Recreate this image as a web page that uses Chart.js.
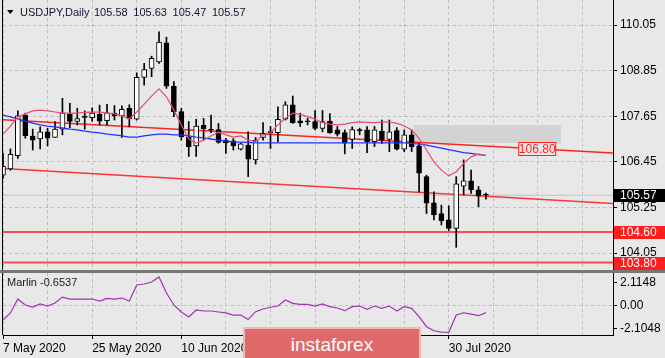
<!DOCTYPE html>
<html><head><meta charset="utf-8">
<script src="https://cdn.jsdelivr.net/npm/chart.js@4.4.1/dist/chart.umd.min.js"></script>
<style>
html,body{margin:0;padding:0;background:#e8e8e8;}
#wrap{position:relative;width:665px;height:358px;overflow:hidden;background:#e8e8e8;}
#c1{position:absolute;left:0;top:0;}
#c2{position:absolute;left:0;top:270px;}
#sep{position:absolute;left:0;top:270px;width:665px;height:3px;background:#777;}
#wm{position:absolute;left:243px;top:327px;width:174px;height:40px;background:#e06a6a;border:2px solid #f2b5b5;color:#fff;font:19px "Liberation Sans",Arial,sans-serif;text-align:center;line-height:31px;}
</style></head>
<body><div id="wrap"><canvas id="c1" width="665" height="270"></canvas><canvas id="c2" width="665" height="88"></canvas><div id="sep"></div><div id="wm">instaforex</div></div>
<script>
const symbolTitle = "USDJPY,Daily";
const dates = ["7 May 2020","8 May 2020","11 May 2020","12 May 2020","13 May 2020","14 May 2020","15 May 2020","18 May 2020","19 May 2020","20 May 2020","21 May 2020","22 May 2020","25 May 2020","26 May 2020","27 May 2020","28 May 2020","29 May 2020",
"1 Jun 2020","2 Jun 2020","3 Jun 2020","4 Jun 2020","5 Jun 2020","8 Jun 2020","9 Jun 2020","10 Jun 2020","11 Jun 2020","12 Jun 2020","15 Jun 2020","16 Jun 2020","17 Jun 2020","18 Jun 2020","19 Jun 2020","22 Jun 2020","23 Jun 2020","24 Jun 2020","25 Jun 2020","26 Jun 2020","29 Jun 2020","30 Jun 2020",
"1 Jul 2020","2 Jul 2020","3 Jul 2020","6 Jul 2020","7 Jul 2020","8 Jul 2020","9 Jul 2020","10 Jul 2020","13 Jul 2020","14 Jul 2020","15 Jul 2020","16 Jul 2020","17 Jul 2020","20 Jul 2020","21 Jul 2020","22 Jul 2020","23 Jul 2020","24 Jul 2020","27 Jul 2020","28 Jul 2020","29 Jul 2020","30 Jul 2020","31 Jul 2020",
"3 Aug 2020","4 Aug 2020","5 Aug 2020","6 Aug 2020"];
const open  = [106.10,106.26,106.61,107.68,107.13,107.05,107.24,107.09,107.31,107.70,107.51,107.62,107.61,107.70,107.53,107.73,107.66,
107.86,107.57,108.67,108.91,109.08,109.58,108.44,107.77,107.11,106.87,107.41,107.29,107.30,107.02,107.00,106.78,106.89,106.50,107.09,107.22,107.22,107.57,
107.95,107.53,107.53,107.51,107.33,107.52,107.29,107.22,107.04,107.30,107.29,106.98,107.26,107.04,107.27,106.78,107.16,106.87,106.06,105.37,105.09,104.92,104.70,
105.81,105.95,105.71,105.58];
const high  = [106.67,106.79,107.79,107.73,107.31,107.37,107.33,107.51,108.12,107.99,107.86,107.79,107.87,107.94,107.96,107.93,107.92,
107.95,108.79,109.04,109.23,109.87,109.73,108.56,107.86,107.51,107.57,107.59,107.68,107.46,107.07,107.06,106.94,107.24,107.09,107.48,107.38,107.90,108.03,
108.18,107.73,107.60,107.80,107.80,107.72,107.38,107.29,107.37,107.33,107.38,107.38,107.55,107.55,107.35,107.29,107.29,106.94,106.10,105.66,105.31,105.29,106.06,
106.50,106.23,105.80,105.63];
const low   = [106.01,106.23,106.54,107.07,106.76,106.79,106.87,107.09,107.16,107.35,107.42,107.31,107.52,107.42,107.42,107.55,107.09,
107.37,107.55,108.47,108.69,109.04,108.38,107.64,107.02,106.59,106.59,107.02,107.22,106.94,106.67,106.76,106.76,106.06,106.39,107.02,106.80,106.98,107.55,
107.46,107.38,107.42,107.29,107.24,107.20,107.13,106.66,106.80,107.16,106.69,106.85,106.93,106.72,106.76,106.72,106.72,105.66,105.09,104.92,104.79,104.64,104.20,
105.58,105.62,105.27,105.47];
const close = [106.33,106.65,107.66,107.14,107.02,107.24,107.07,107.31,107.73,107.51,107.59,107.64,107.73,107.52,107.74,107.66,107.83,
107.58,108.67,108.88,109.17,109.60,108.44,107.77,107.11,106.85,107.39,107.32,107.28,106.96,106.95,106.87,106.92,106.52,107.02,107.20,107.24,107.57,107.95,
107.48,107.48,107.50,107.33,107.51,107.22,107.18,106.94,107.30,107.26,106.98,107.29,107.02,107.24,106.78,107.16,106.85,106.15,105.36,105.05,104.90,104.70,105.87,
105.95,105.71,105.55,105.57];
const maFast = [107.18,107.39,107.63,107.71,107.79,107.81,107.79,107.76,107.73,107.73,107.73,107.75,107.76,107.76,107.73,107.71,107.66,
107.58,107.76,107.97,108.18,108.37,108.16,107.81,107.42,107.05,106.94,107.02,107.13,107.23,107.16,107.10,107.13,107.02,106.98,107.16,107.21,107.42,107.60,
107.73,107.70,107.64,107.57,107.48,107.44,107.42,107.44,107.48,107.50,107.49,107.48,107.50,107.50,107.46,107.40,107.29,107.07,106.76,106.45,106.23,106.08,106.19,
106.41,106.58,106.66,106.61];
const maSlow = [107.68,107.63,107.58,107.52,107.47,107.42,107.39,107.37,107.34,107.31,107.29,107.26,107.23,107.21,107.18,107.16,107.13,
107.10,107.10,107.13,107.16,107.18,107.18,107.16,107.16,107.13,107.10,107.08,107.05,107.02,107.00,106.97,106.97,106.96,106.95,106.95,106.95,106.95,106.95,
106.95,106.95,106.95,106.95,106.95,106.95,106.95,106.95,106.95,106.95,106.95,106.95,106.95,106.95,106.95,106.95,106.93,106.92,106.89,106.85,106.81,106.77,106.73,
106.69,106.67,106.64,106.62];
const marlin = [-1.32,-0.68,0.59,0.05,-0.14,0.14,-0.05,0.23,0.77,0.59,0.59,0.59,0.59,0.41,0.64,0.59,0.68,
0.41,1.87,1.96,2.14,2.60,1.14,0.05,-0.59,-1.05,-0.41,-0.50,-0.50,-0.59,-0.68,-0.87,-0.87,-1.28,-0.56,-0.32,-0.16,-0.05,0.50,
0.20,0.11,0.11,-0.05,0.14,-0.11,-0.23,-0.47,-0.11,-0.05,-0.35,-0.05,-0.26,-0.05,-0.50,-0.11,-0.26,-1.02,-1.93,-2.30,-2.42,-2.44,-0.87,
-0.66,-0.78,-0.93,-0.6537];
const priceTicks = [110.05,108.85,107.65,106.45,105.25,104.05];
const marlinTicks = [2.1148,0,-2.1048];
const dateTickIdx = [0,12,24,60];
const gridStepBars = 6;
const trendUpper = [[-0.5,107.564],[83,106.672]];
const trendLower = [[-0.5,106.280],[83,105.345]];
const levels = [104.60,103.80];
const zone = {from:55.2,to:75.1,top:107.42,bottom:106.945};
const targetLabel = {x:71.9,price:106.80};
const priceRange = [103.603,110.708];
const marlinRange = [-2.689,2.963];
const barRange = [0,82.1];

const FONT = '"Liberation Sans", Arial, sans-serif';
const idx = dates.map((d,i)=>i);
const gridTicks = []; for (let v=0; v<=barRange[1]; v+=gridStepBars) gridTicks.push(v);
const lineDs = (pts, color, w, order, extra) => Object.assign({type:'line', data: pts.map(p=>({x:p[0],y:p[1]})), borderColor:color, borderWidth:w, pointRadius:0, tension:0, fill:false, order}, extra||{});

const mainOverlay = {
  id:'mainOverlay',
  afterDraw(chart){
    const {ctx, chartArea:a, scales:{x,y}} = chart;
    ctx.save();
    ctx.strokeStyle='#000'; ctx.lineWidth=1;
    ctx.beginPath(); ctx.moveTo(a.left-0.5,a.top); ctx.lineTo(a.left-0.5,a.bottom); ctx.stroke();
    // title
    ctx.fillStyle='#000';
    ctx.beginPath(); ctx.moveTo(7,10); ctx.lineTo(13.5,10); ctx.lineTo(10.25,14); ctx.closePath(); ctx.fill();
    ctx.font='11px '+FONT; ctx.textBaseline='middle'; ctx.textAlign='left'; ctx.fillStyle='#141432';
    ctx.fillText(symbolTitle,20,13);
    const last = open.length-1;
    [open[last],high[last],low[last],close[last]].forEach((v,k)=>ctx.fillText(v.toFixed(2),94+k*39.3,13));
    // target label
    const tx = x.getPixelForValue(targetLabel.x), ty = Math.round(y.getPixelForValue(targetLabel.price));
    ctx.font='12px '+FONT; ctx.textAlign='center';
    ctx.fillStyle='#e8e8e8'; ctx.fillRect(tx-18.5,ty-6.5,37,13);
    ctx.strokeStyle='#ff2020'; ctx.strokeRect(tx-18.5,ty-6.5,37,13);
    ctx.fillStyle='#ff2020'; ctx.fillText(targetLabel.price.toFixed(2),tx,ty+0.5);
    // axis boxes
    const box=(val,bg,fg)=>{const py=Math.round(y.getPixelForValue(val)); ctx.fillStyle=bg; ctx.fillRect(a.right+1,py-6,52,13); ctx.fillStyle=fg; ctx.textAlign='left'; ctx.fillText(val.toFixed(2),a.right+7,py+0.5);};
    box(close[last],'#000','#fff');
    levels.forEach(v=>box(v,'#ff1e1e','#fff'));
    ctx.restore();
  }
};

const wickData = idx.map(i=>({x:i,y:[low[i],high[i]]}));
const bodyData = idx.map(i=>({x:i,y:[open[i],close[i]]}));
const bodyColors = idx.map(i=>(close[i]-open[i]>0.03?'#ffffff':'#000000'));

new Chart(document.getElementById('c1'),{
  type:'line',
  data:{datasets:[
    lineDs([[zone.from,zone.top],[zone.to,zone.top]],'rgba(0,0,0,0)',0,30,{fill:{value:zone.bottom},backgroundColor:'#d3d3d3'}),
    lineDs([[-1,close[close.length-1]],[90,close[close.length-1]]],'#c2c2c2',1,29),
    lineDs([[-1,levels[0]],[90,levels[0]]],'#ff4c4c',2,28),
    lineDs([[-1,levels[1]],[90,levels[1]]],'#ff4c4c',2,27),
    lineDs(trendUpper,'#ff2222',1.5,26),
    lineDs(trendLower,'#ff3434',1.5,25),
    {type:'bar',data:wickData,backgroundColor:'#000',borderWidth:0,barThickness:1,grouped:false,order:10},
    {type:'bar',data:bodyData,backgroundColor:bodyColors,borderColor:'#000',borderWidth:1,borderSkipped:false,barThickness:5,minBarLength:1,grouped:false,order:9},
    lineDs(idx.map(i=>[i,maSlow[i]]),'#2233ff',1.3,2),
    lineDs(idx.map(i=>[i,maFast[i]]),'#e64c70',1.2,1)
  ]},
  options:{
    responsive:false, animation:false, events:[],
    layout:{padding:{left:3,top:0,right:0,bottom:0}},
    plugins:{legend:{display:false},tooltip:{enabled:false}},
    scales:{
      x:{type:'linear',min:barRange[0],max:barRange[1],offset:false,
        afterBuildTicks:s=>{s.ticks=gridTicks.map(v=>({value:v}));},
        ticks:{display:false},
        grid:{color:'#bdbdbd',drawTicks:false,offset:false},
        border:{display:false,dash:[3,3]},
        afterFit:s=>{s.height=0;s.paddingLeft=0;s.paddingRight=0;}},
      y:{position:'right',min:priceRange[0],max:priceRange[1],
        afterBuildTicks:s=>{s.ticks=priceTicks.map(v=>({value:v}));},
        ticks:{font:{family:FONT,size:12},color:'#000',padding:3,callback:v=>v.toFixed(2)},
        grid:{color:'#bdbdbd',tickColor:'#000',tickLength:4},
        border:{display:true,color:'#000',dash:[3,3]},
        afterFit:s=>{s.width=52;s.paddingTop=0;s.paddingBottom=0;}}
    }
  },
  plugins:[mainOverlay]
});

const subOverlay = {
  id:'subOverlay',
  afterDraw(chart){
    const {ctx, chartArea:a} = chart;
    ctx.save();
    ctx.strokeStyle='#000'; ctx.lineWidth=1;
    ctx.beginPath(); ctx.moveTo(a.left-0.5,a.top); ctx.lineTo(a.left-0.5,a.bottom); ctx.stroke();
    ctx.font='11px '+FONT; ctx.fillStyle='#1a1a1a'; ctx.textBaseline='middle'; ctx.textAlign='left';
    ctx.fillText('Marlin '+marlin[marlin.length-1],7,13);
    ctx.restore();
  }
};

new Chart(document.getElementById('c2'),{
  type:'line',
  data:{datasets:[lineDs(idx.map(i=>[i,marlin[i]]),'#a232b2',1.2,1)]},
  options:{
    responsive:false, animation:false, events:[],
    layout:{padding:{left:3,top:3,right:0,bottom:0}},
    plugins:{legend:{display:false},tooltip:{enabled:false}},
    scales:{
      x:{type:'linear',min:barRange[0],max:barRange[1],offset:false,
        afterBuildTicks:s=>{s.ticks=gridTicks.map(v=>({value:v}));},
        ticks:{autoSkip:false,maxRotation:0,minRotation:0,align:'start',padding:2,font:{family:FONT,size:12},color:'#000',
          callback:v=>dateTickIdx.includes(v)?dates[v]:''},
        grid:{color:'#bdbdbd',tickLength:4,offset:false,
          tickColor:c=>(c.tick&&dateTickIdx.includes(c.tick.value))?'#000':'rgba(0,0,0,0)'},
        border:{display:true,color:'#000',dash:[3,3]},
        afterFit:s=>{s.height=23;s.paddingLeft=0;s.paddingRight=0;}},
      y:{position:'right',min:marlinRange[0],max:marlinRange[1],
        afterBuildTicks:s=>{s.ticks=marlinTicks.map(v=>({value:v}));},
        ticks:{font:{family:FONT,size:12},color:'#000',padding:3,callback:v=>v===0?'0.00':v.toFixed(4)},
        grid:{color:c=>(c.tick&&c.tick.value===0)?'#bdbdbd':'rgba(0,0,0,0)',tickColor:'#000',tickLength:4},
        border:{display:true,color:'#000',dash:[3,3]},
        afterFit:s=>{s.width=52;s.paddingTop=0;s.paddingBottom=0;}}
    }
  },
  plugins:[subOverlay]
});
</script>
</body></html>
